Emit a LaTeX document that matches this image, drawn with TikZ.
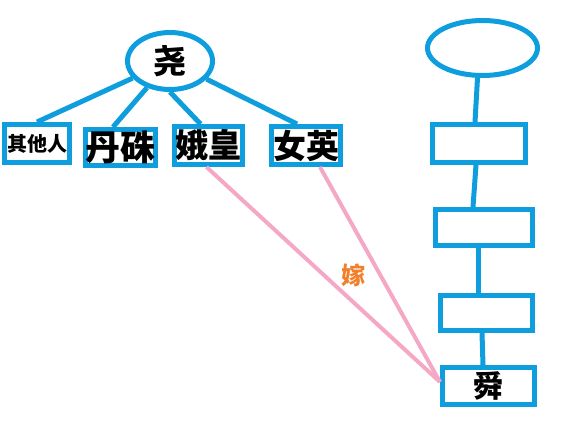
\documentclass[tikz,border=0pt]{standalone}
\usepackage{fontspec}
\usetikzlibrary{shapes.geometric}
\newfontfamily\cjk{Noto Sans CJK SC}
\definecolor{treeblue}{RGB}{14,158,222}
\definecolor{marrypink}{RGB}{245,168,198}
\definecolor{marryorange}{RGB}{240,128,44}
\begin{document}
\begin{tikzpicture}[x=1pt, y=-1pt,
    member/.style={draw=treeblue, line width=5pt, rectangle, inner sep=0pt, font=\cjk\bfseries},
    elder/.style={draw=treeblue, line width=5pt, ellipse, inner sep=0pt, font=\cjk\bfseries},
    link/.style={draw=treeblue, line width=5pt},
    wed/.style={draw=marrypink, line width=4pt}]
  \useasboundingbox (0,0) rectangle (567,424);

  % Yao and his children
  \node[elder, minimum width=85pt, minimum height=57pt, font=\cjk\bfseries\fontsize{33}{33}\selectfont] (yao) at (170,61) {尧};
  \node[member, minimum width=65pt, minimum height=38pt, font=\cjk\bfseries\fontsize{20}{20}\selectfont] (others) at (37,143.5) {其他人};
  \node[member, minimum width=65pt, minimum height=36pt, font=\cjk\bfseries\fontsize{35}{35}\selectfont] (danzhu) at (120,147.5) {丹硃};
  \node[member, minimum width=68pt, minimum height=38pt, font=\cjk\bfseries\fontsize{33}{33}\selectfont] (ehuang) at (208.5,145.5) {娥皇};
  \node[member, minimum width=69pt, minimum height=38pt, font=\cjk\bfseries\fontsize{33}{33}\selectfont] (nvying) at (306,145.5) {女英};

  \draw[link] (yao) -- (others.north);
  \draw[link] (yao) -- ([xshift=-7pt]danzhu.north);
  \draw[link] (yao.south) -- ([xshift=-8pt]ehuang.north);
  \draw[link] (yao) -- ([xshift=-9pt]nvying.north);

  % Shun's line
  \node[elder, minimum width=110pt, minimum height=55pt] (root) at (482.5,48) {};
  \node[member, minimum width=93pt, minimum height=38pt] (gen1) at (479,143.5) {};
  \node[member, minimum width=97pt, minimum height=36pt] (gen2) at (484,227.5) {};
  \node[member, minimum width=92pt, minimum height=35pt] (gen3) at (486.5,313) {};
  \node[member, minimum width=92pt, minimum height=37pt, font=\cjk\bfseries\fontsize{30}{30}\selectfont] (shun) at (488.5,386) {舜};

  \draw[link] ([xshift=-5pt]root.south) -- ([xshift=-4pt]gen1.north);
  \draw[link] ([xshift=-3pt]gen1.south) -- ([xshift=-11pt]gen2.north);
  \draw[link] ([xshift=-6pt]gen2.south) -- ([xshift=-8.5pt]gen3.north);
  \draw[link] ([xshift=-4.5pt]gen3.south) -- ([xshift=-5.5pt]shun.north);

  % marriage
  \draw[wed] ([xshift=-2pt]ehuang.south) -- ([yshift=4pt]shun.west);
  \draw[wed] ([xshift=14pt]nvying.south) -- ([yshift=4pt]shun.west);
  \node[text=marryorange, font=\cjk\bfseries\fontsize{24}{24}\selectfont] (jia) at (353,275) {嫁};
\end{tikzpicture}
\end{document}
